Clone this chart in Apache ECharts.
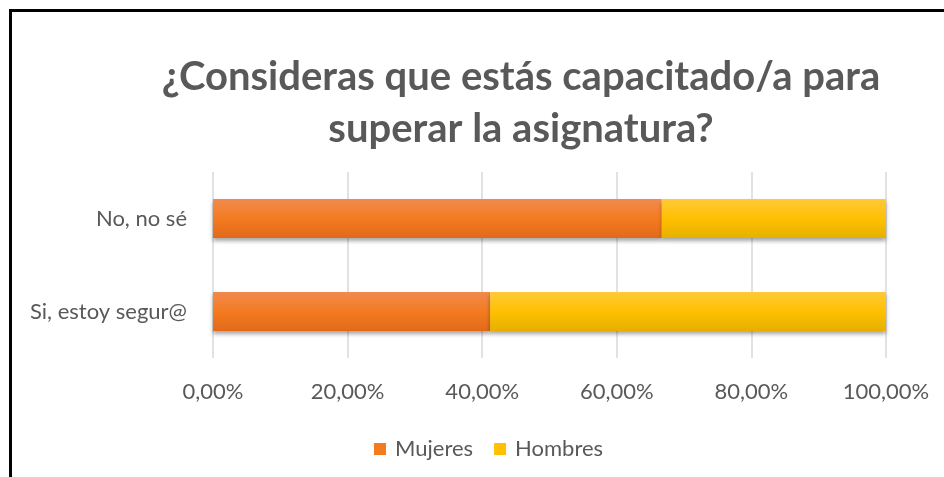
<!DOCTYPE html>
<html lang="es" style="height: 100%">
<head>
    <meta charset="utf-8">
    <style>
        /* marco negro arriba e izquierda */
        .frame {
            position: absolute;
            left: 9px;
            top: 9px;
            width: 960px;
            height: 500px;
            border-left: 3px solid #000;
            border-top: 3px solid #000;
            box-sizing: border-box;
        }
    </style>
</head>
<body style="height: 100%; margin: 0; background: #fff; overflow: hidden">
<div class="frame"></div>
<div id="container" style="position: absolute; left: 0; top: 0; width: 944px; height: 477px"></div>

<script type="text/javascript" src="https://cdn.jsdelivr.net/npm/echarts@6/dist/echarts.min.js"></script>
<script type="text/javascript">
    var categories = ['Si, estoy segur@', 'No, no sé'];
    var mujeres = [41.18, 66.67];
    var hombres = [58.82, 33.33];
    var xTicks = [0, 20, 40, 60, 80, 100];

    var dom = document.getElementById('container');
    var myChart = echarts.init(dom, null, { renderer: 'canvas' });

    function grad(top, mid, bottom) {
      return new echarts.graphic.LinearGradient(0, 0, 0, 1, [
        { offset: 0, color: top },
        { offset: 0.5, color: mid },
        { offset: 1, color: bottom }
      ]);
    }

    var barShadow = {
      shadowColor: 'rgba(0,0,0,0.35)',
      shadowBlur: 4,
      shadowOffsetY: 3
    };

    var option = {
      animation: false,
      textStyle: { fontFamily: 'Lato' },
      title: {
        text: '¿Consideras que estás capacitado/a para\nsuperar la asignatura?',
        left: 516,
        textAlign: 'center',
        top: 46,
        textStyle: {
          color: '#595959',
          fontSize: 40,
          fontWeight: 'bold',
          fontFamily: 'Lato',
          lineHeight: 52
        }
      },
      legend: {
        top: 433,
        left: 369,
        itemWidth: 12,
        itemHeight: 12,
        itemGap: 21,
        icon: 'rect',
        textStyle: { color: '#595959', fontSize: 22, fontFamily: 'Lato', padding: [0, 0, 0, 4] },
        data: [
          { name: 'Mujeres', itemStyle: { color: '#F47B20' } },
          { name: 'Hombres', itemStyle: { color: '#FFC000' } }
        ]
      },
      grid: { left: 213, right: 58, top: 172, bottom: 119 },
      xAxis: {
        type: 'value',
        min: xTicks[0],
        max: xTicks[xTicks.length - 1],
        interval: 20,
        axisLine: { show: false },
        axisTick: { show: false },
        splitLine: { lineStyle: { color: '#D9D9D9', width: 1.5 } },
        axisLabel: {
          color: '#595959',
          fontSize: 22,
          fontFamily: 'Lato',
          margin: 23,
          formatter: function (v) {
            return v.toFixed(2).replace('.', ',') + '%';
          }
        }
      },
      yAxis: {
        type: 'category',
        data: categories,
        axisLine: { show: false },
        axisTick: { show: false },
        axisLabel: { color: '#595959', fontSize: 22, fontFamily: 'Lato', margin: 26 }
      },
      series: [
        {
          name: 'Mujeres',
          type: 'bar',
          stack: 'total',
          barWidth: '42%',
          data: mujeres,
          itemStyle: Object.assign({ color: grad('#F08A50', '#F47B20', '#E2691A') }, barShadow)
        },
        {
          name: 'Hombres',
          type: 'bar',
          stack: 'total',
          barWidth: '42%',
          data: hombres,
          itemStyle: Object.assign({ color: grad('#FFC93A', '#FFC000', '#E6B000') }, barShadow)
        }
      ]
    };
    myChart.setOption(option);

    window.addEventListener('resize', myChart.resize);
</script>
</body>
</html>
